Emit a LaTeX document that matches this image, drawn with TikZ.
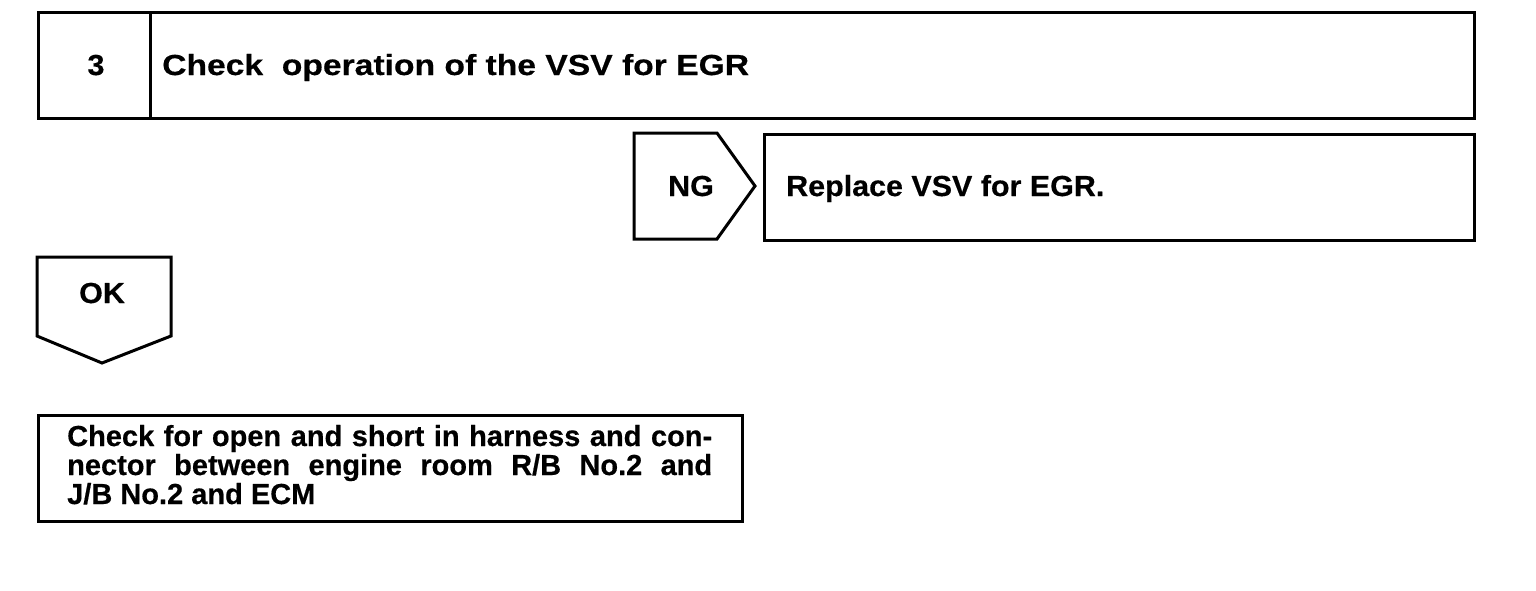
\documentclass[tikz,border=0pt]{standalone}
\usepackage{fontspec}
\setmainfont{Liberation Sans}[FakeBold=0.5]
\newfontfamily\tagfont[FakeStretch=1.05,FakeBold=0.5]{Liberation Sans}
\newfontfamily\headfont[FakeStretch=1.16,FakeBold=0.5]{Liberation Sans}
\usetikzlibrary{positioning}

\begin{document}
\begin{tikzpicture}[x=1pt, y=-1pt,
  box/.style={draw, line width=3pt, inner sep=0pt, minimum height=106pt},
  tag/.style={draw, line width=3pt, line join=miter},
  lbl/.style={font=\tagfont\fontsize{29}{32}\bfseries\selectfont, inner sep=0pt},
  head/.style={font=\headfont\fontsize{29}{32}\bfseries\selectfont, inner sep=0pt},
  note/.style={font=\fontsize{29}{29}\bfseries\selectfont, inner sep=0pt,
               text width=645pt, align=justify}]
  \useasboundingbox (0,0) rectangle (1536,590);
  % step header
  \node[box, anchor=north west, minimum width=112pt] (num) at (37,11) {};
  \node[box, anchor=north west, minimum width=1324pt] (title) at (149,11) {};
  \node[lbl, anchor=base] (numtext) at (96,75) {3};
  \node[head, anchor=base west] (titletext) at (162,75) {Check\ \ operation of the VSV for EGR};
  % NG branch
  \draw[tag] (634,133) -- (717,133) -- (755,186) -- (717,239) -- (634,239) -- cycle;
  \node[lbl, anchor=base] (ng) at (691,196) {NG};
  \node[box, anchor=north west, minimum width=710pt] (replace) at (763,133) {};
  \node[lbl, anchor=base west] (replacetext) at (786,196) {Replace VSV for EGR.};
  % OK branch
  \draw[tag] (37,257) -- (171,257) -- (171,336) -- (102,363) -- (37,336) -- cycle;
  \node[lbl, anchor=base] (ok) at (102,303) {OK};
  \node[box, anchor=north west, minimum width=704pt] (check) at (37,414) {};
  \node[note, anchor=base west] (checktext) at (67,446)
    {Check for open and short in harness and con-\linebreak nector between engine room R/B No.2 and\linebreak J/B No.2 and ECM};
\end{tikzpicture}
\end{document}
